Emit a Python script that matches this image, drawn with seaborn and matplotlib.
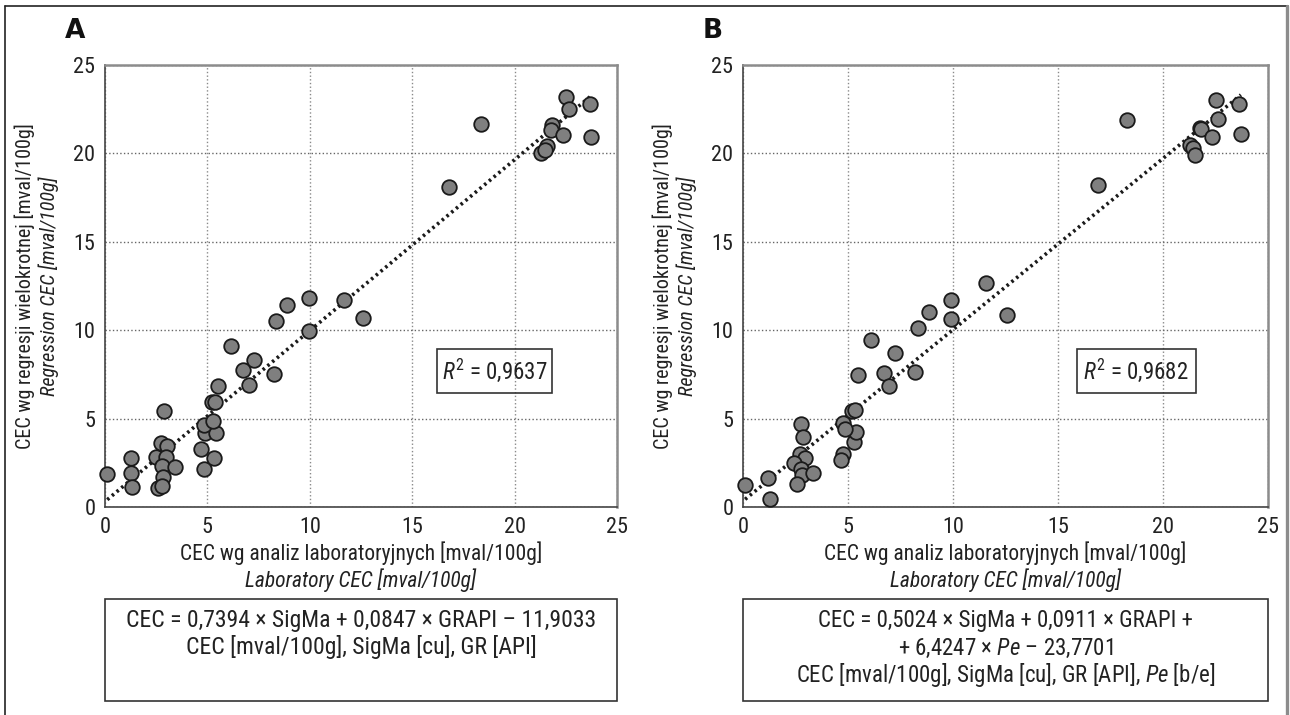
import numpy as np
import pandas as pd
import matplotlib
matplotlib.use("Agg")
import matplotlib.pyplot as plt
import seaborn as sns
from matplotlib.patches import Rectangle
from matplotlib.lines import Line2D

sns.set_theme(style="white")
FONT = 'Roboto Condensed'
plt.rcParams['font.family'] = [FONT, 'DejaVu Sans']
plt.rcParams['font.stretch'] = 'condensed'
plt.rcParams['mathtext.fontset'] = 'custom'
plt.rcParams['mathtext.rm'] = f'{FONT}:stretch=condensed'
plt.rcParams['mathtext.it'] = f'{FONT}:style=italic:stretch=condensed'

# panel A: laboratory CEC vs CEC from multiple regression (SigMa, GRAPI)
lab_a = [0.11, 1.26, 1.26, 1.34, 2.48, 2.72, 3.02, 2.98, 2.77, 3.42, 2.85, 2.61,
         2.80, 2.89, 4.69, 4.81, 5.33, 4.89, 5.43, 4.81, 5.25, 5.22, 5.38, 5.54,
         6.76, 7.01, 7.29, 8.23, 8.35, 8.89, 9.94, 9.94, 11.65, 12.58, 6.16, 16.80,
         18.34, 22.53, 22.66, 23.67, 21.84, 21.79, 22.38, 23.75, 21.27, 21.56, 21.48]
reg_a = [1.87, 2.77, 1.92, 1.17, 2.87, 3.62, 3.49, 2.87, 2.34, 2.26, 1.73, 1.11,
         1.22, 5.47, 3.30, 2.17, 2.77, 4.19, 4.19, 4.66, 4.90, 5.98, 5.95, 6.83,
         7.74, 6.93, 8.34, 7.53, 10.51, 11.42, 11.83, 9.94, 11.74, 10.70, 9.09, 18.08,
         21.65, 23.21, 22.50, 22.78, 21.59, 21.33, 21.04, 20.95, 20.00, 20.42, 20.19]

# panel B: regression with SigMa, GRAPI and Pe
lab_b = [0.10, 1.21, 1.29, 2.75, 2.87, 2.71, 2.95, 2.43, 2.75, 2.80, 3.35, 2.56,
         4.78, 4.67, 5.29, 5.38, 4.78, 4.86, 5.18, 5.33, 5.49, 6.71, 6.97, 8.19,
         11.57, 9.90, 8.86, 9.90, 12.56, 8.32, 7.24, 6.10, 18.30, 22.52, 23.63, 22.63,
         21.76, 21.83, 22.35, 23.71, 21.27, 21.44, 21.52, 16.90]
reg_b = [1.26, 1.64, 0.47, 4.72, 4.00, 3.00, 2.81, 2.49, 2.17, 1.83, 1.96, 1.32,
         3.02, 2.68, 3.71, 4.28, 4.76, 4.42, 5.47, 5.51, 7.49, 7.59, 6.87, 7.62,
         12.68, 11.74, 11.02, 10.66, 10.85, 10.14, 8.72, 9.47, 21.87, 23.02, 22.78, 21.93,
         21.46, 21.40, 20.95, 21.08, 20.46, 20.33, 19.91, 18.20]

ticks = [0, 5, 10, 15, 20, 25]
r2_a = "0,9637"
r2_b = "0,9682"
eq_a = ["CEC = 0,7394 × SigMa + 0,0847 × GRAPI – 11,9033",
        "CEC [mval/100g], SigMa [cu], GR [API]"]
eq_b = ["CEC = 0,5024 × SigMa + 0,0911 × GRAPI +",
        "+ 6,4247 × $Pe$ – 23,7701",
        "CEC [mval/100g], SigMa [cu], GR [API], $Pe$ [b/e]"]

TXT = '#222222'
AX_TOP, AX_BOT = 65.0, 507.3   # axes edges in figure pixels


def ypix(p):
    # figure pixel row -> axes fraction
    return (AX_BOT - p) / (AX_BOT - AX_TOP)


def panel(ax, lab, reg, letter, r2, r2_left, left_px, width_px, eq_lines, eq_rows, eq_size):
    df = pd.DataFrame({'lab': lab, 'reg': reg})
    sns.regplot(data=df, x='lab', y='reg', ax=ax, scatter=False, ci=None,
                line_kws=dict(color='#1a1a1a', lw=2.6, ls=(0, (0.7, 1.0)), zorder=2))
    sns.scatterplot(data=df, x='lab', y='reg', ax=ax, s=110, color='#7f7f7f',
                    edgecolor='#1a1a1a', linewidth=1.3, zorder=3, clip_on=False)
    ax.set_xlim(0, 25)
    ax.set_ylim(0, 25)
    ax.set_xticks(ticks)
    ax.set_yticks(ticks)
    ax.set_xlabel('')
    ax.set_ylabel('')
    ax.grid(True, ls=':', lw=1.0, color='#666666')
    for gl in ax.get_xgridlines():
        gl.set_color('#8a8a8a')
    ax.tick_params(labelsize=16, length=4, width=1, colors='#333333',
                   labelcolor=TXT, pad=3, direction='out')
    for s in ['left', 'bottom']:
        ax.spines[s].set_color('#444444')
        ax.spines[s].set_linewidth(1.2)
    for s in ['top', 'right']:
        ax.spines[s].set_color('#8c8c8c')
        ax.spines[s].set_linewidth(1.8)

    # R^2 box
    ax.add_patch(Rectangle((r2_left, 6.47), 5.65, 2.49, fill=False,
                           ec='#333333', lw=1.2, zorder=4))
    ax.text(r2_left + 5.65 / 2, 7.72, "$R^2$ = " + r2, ha='center', va='center',
            fontsize=16.5, color=TXT, zorder=5)

    # axis labels in two languages
    ax.text(0.5, ypix(553), "CEC wg analiz laboratoryjnych [mval/100g]",
            transform=ax.transAxes, ha='center', va='center', fontsize=15.5, color=TXT)
    ax.text(0.5, ypix(580), "Laboratory CEC [mval/100g]", transform=ax.transAxes,
            ha='center', va='center', fontsize=15.5, color=TXT, style='italic')
    ax.text((left_px - 80 - left_px) / width_px, 0.5,
            "CEC wg regresji wielokrotnej [mval/100g]",
            transform=ax.transAxes, ha='center', va='center', rotation=90,
            fontsize=14.5, color=TXT)
    ax.text(-56 / width_px, 0.5, "Regression CEC [mval/100g]", transform=ax.transAxes,
            ha='center', va='center', rotation=90, fontsize=14.5, color=TXT,
            style='italic')

    # equation box
    ax.add_patch(Rectangle((0, ypix(701)), 1, ypix(599) - ypix(701), transform=ax.transAxes,
                           fill=False, ec='#333333', lw=1.2, clip_on=False))
    for line, row in zip(eq_lines, eq_rows):
        ax.text(0.5, ypix(row), line, transform=ax.transAxes, ha='center', va='center',
                fontsize=eq_size, color=TXT)

    ax.text(-40 / width_px, ypix(38), letter, transform=ax.transAxes, ha='left',
            va='baseline', fontsize=19, fontweight='heavy', color='#111111',
            family='DejaVu Sans', stretch='normal')


fig = plt.figure(figsize=(12.9, 7.15), dpi=100)
ax_a = fig.add_axes([105 / 1290, 1 - AX_BOT / 715, 512 / 1290, (AX_BOT - AX_TOP) / 715])
ax_b = fig.add_axes([743 / 1290, 1 - AX_BOT / 715, 525 / 1290, (AX_BOT - AX_TOP) / 715])

panel(ax_a, lab_a, reg_a, "A", r2_a, 16.2, 105, 512, eq_a, [620, 647], 17)
panel(ax_b, lab_b, reg_b, "B", r2_b, 15.9, 743, 525, eq_b, [621, 648, 675], 16.5)

# outer frame
fig.add_artist(Line2D([5 / 1290, 5 / 1290], [0, 1 - 6 / 715], color='#222222', lw=1.2))
fig.add_artist(Line2D([5 / 1290, 1288 / 1290], [1 - 6 / 715, 1 - 6 / 715], color='#222222', lw=1.2))
fig.add_artist(Line2D([1287 / 1290, 1287 / 1290], [0, 1 - 6 / 715], color='#8c8c8c', lw=2.4))

fig.savefig("out.png", dpi=100, facecolor='white')
